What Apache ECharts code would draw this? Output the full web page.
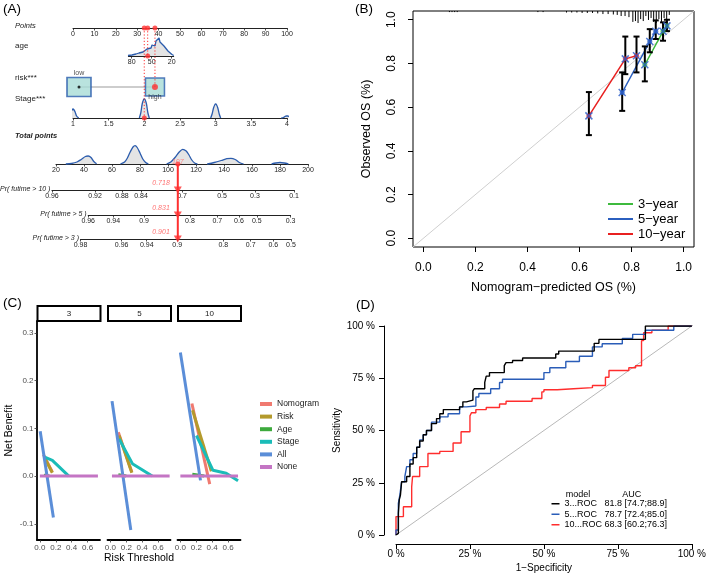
<!DOCTYPE html>
<html><head><meta charset="utf-8">
<script src="https://cdn.jsdelivr.net/npm/echarts@6/dist/echarts.min.js"></script>
<style>html,body{margin:0;padding:0;background:#fff}#c{width:709px;height:574px}</style>
</head><body><div id="c"></div>
<script>
// ================= DATA =================
// ---- Panel A (nomogram) ----
const ageTicks = [80, 50, 20];
const ageDensX = [85.6,79.6,73.6,69,66,63,60,57,54,51,49.5,46.6,45,43.6,42,40.6,39,37.6,36,34.6,31.6,28.6,25.6,22.6,19.6,17];
const ageDensY = [0.5,1,2,3,4.5,4,6,7,9,8,11,12,10,15,13,17,18,14,16,12,10,8,5,3,1.5,0.5];
const riskLevels = ['low', 'high'];
const riskPoints = [2.8, 38.3];
const stageDensX = [
  [0.92,0.95,0.97,0.99,1.0,1.01,1.03,1.05,1.08],
  [1.93,1.95,1.97,1.99,2.0,2.01,2.03,2.05,2.07],
  [2.93,2.95,2.97,2.99,3.0,3.01,3.03,3.05,3.07],
  [3.92,3.95,3.97,3.99,4.0,4.01,4.03,4.05,4.08]];
const stageDensY = [
  [0,2,6,8.5,9,8.5,6,2,0],
  [0,5,14,18.5,19,18.5,14,5,0],
  [0,4,10,13.5,14,13.5,10,4,0],
  [0,0.5,1.5,2,2,2,1.5,0.5,0]];
const totalDensX = [
  [27,31,35,38,41,43,45,47,49],
  [66,69,71,73,75,76.5,78,80,82,84,86],
  [99,102,105,108,110.5,113,115,117,119,121],
  [128,133,138,142,145,148,151,154],
  [174,177,180,183,186]];
const totalDensY = [
  [0,0.5,2,4.5,7.5,8,6.5,2.5,0.3],
  [0,2,6,12,17,18.3,16.5,11,5,1.5,0],
  [0,2,6.5,12,14.7,13,9,4,1,0],
  [0,1.5,3.5,5.3,5.7,4.5,1.5,0],
  [0,1,1.5,1,0]];
const pr10Labels = ['0.96','0.92','0.88','0.84','0.7','0.5','0.3','0.1'];
const pr10Pos    = [17.1, 47.9, 67.1, 80.7, 110, 138.6, 162.1, 190];
const pr5Labels  = ['0.96','0.94','0.9','0.8','0.7','0.6','0.5','0.3'];
const pr5Pos     = [43, 60.9, 82.9, 115.7, 135.2, 150.7, 163.4, 187.5];
const pr3Labels  = ['0.98','0.96','0.94','0.9','0.8','0.7','0.6','0.5'];
const pr3Pos     = [37.5, 66.9, 84.8, 106.6, 139.5, 159.1, 175.2, 187.8];
const obsAge = 56, obsStage = 2, obsRisk = 1;
const varPoints = [33.3, 34.9, 38.3];     // stage, age, risk
const totalPoints = 107;
const predProbs = [0.718, 0.831, 0.901]; // 10, 5, 3 years

// ---- Panel B (calibration) ----
const calYears = ['3\u2212year','5\u2212year','10\u2212year'];
const cal3Pred = [0.851,0.921,0.936], cal3Obs = [0.794,0.947,0.972], cal3Lo = [0.718,0.904,0.948], cal3Hi = [0.878,0.988,1.0];
const cal5Pred = [0.764,0.870,0.893], cal5Obs = [0.667,0.900,0.947], cal5Lo = [0.583,0.851,0.912], cal5Hi = [0.759,0.957,0.997];
const cal10Pred = [0.636,0.776,0.819], cal10Obs = [0.560,0.821,0.835], cal10Lo = [0.472,0.751,0.759], cal10Hi = [0.669,0.923,0.923];
const rugX = [0.10,0.11,0.12,0.13,0.44,0.46,0.55,0.57,0.59,0.61,0.63,0.65,0.67,0.69,0.71,0.73,0.745,0.76,0.775,0.79,0.805,0.815,0.825,0.835,0.845,0.855,0.865,0.875,0.885,0.895,0.905,0.915,0.925,0.935,0.945];
const rugH = [0.005,0.005,0.005,0.005,0.005,0.005,0.007,0.007,0.007,0.009,0.009,0.009,0.011,0.014,0.014,0.016,0.018,0.023,0.023,0.028,0.05,0.046,0.055,0.037,0.046,0.023,0.041,0.032,0.05,0.055,0.037,0.05,0.032,0.041,0.018];
const calTicks = [0,0.2,0.4,0.6,0.8,1.0];

// ---- Panel C (decision curves) ----
const dcaFacets = ['3','5','10'];
const dcaModels = ['Nomogram','Risk','Age','Stage','All','None'];
const dca3_Nomogram = [[0.045,0.045],[0.157,0.008]];
const dca3_Risk     = [[0.054,0.040],[0.157,0.007]];
const dca3_Age      = [[0.05,0.002],[0.12,0.0]];
const dca3_Stage    = [[0.054,0.040],[0.157,0.033],[0.364,0.0]];
const dca3_All      = [[0.004,0.094],[0.17,-0.087]];
const dca3_None     = [[0,0],[0.73,0]];
const dca5_Nomogram = [[0.10,0.092],[0.27,0.008]];
const dca5_Risk     = [[0.11,0.085],[0.27,0.007]];
const dca5_Age      = [[0.10,0.003],[0.20,0.0]];
const dca5_Stage    = [[0.11,0.078],[0.277,0.026],[0.526,0.0]];
const dca5_All      = [[0.021,0.157],[0.257,-0.113]];
const dca5_None     = [[0.02,0],[0.745,0]];
const dca10_Nomogram = [[0.145,0.152],[0.369,-0.017]];
const dca10_Risk     = [[0.153,0.138],[0.39,0.01]];
const dca10_Age      = [[0.15,0.004],[0.30,0.0]];
const dca10_Stage    = [[0.203,0.085],[0.41,0.012],[0.576,0.006],[0.725,-0.01]];
const dca10_All      = [[0,0.259],[0.253,-0.009]];
const dca10_None     = [[0,0],[0.725,0]];
const dcaXTicks = [0,0.2,0.4,0.6];
const dcaYTicks = [-0.1,0,0.1,0.2,0.3];

// ---- Panel D (ROC) ----
const rocNames = ['3...ROC','5...ROC','10...ROC'];
const rocAUC = ['81.8 [74.7;88.9]','78.7 [72.4;85.0]','68.3 [60.2;76.3]'];
const roc3X = [0,0.008,0.011,0.015,0.019,0.036,0.047,0.058,0.07,0.08,0.092,0.103,0.12,0.137,0.148,0.16,0.176,0.215,0.226,0.238,0.26,0.265,0.3,0.305,0.316,0.327,0.366,0.372,0.394,0.428,0.434,0.54,0.55,0.563,0.67,0.686,0.69,0.843,0.848,1.0];
const roc3Y = [0,0.008,0.104,0.168,0.191,0.255,0.28,0.34,0.37,0.42,0.45,0.48,0.50,0.533,0.557,0.58,0.60,0.60,0.613,0.637,0.645,0.69,0.70,0.73,0.76,0.777,0.777,0.81,0.825,0.835,0.847,0.847,0.866,0.88,0.88,0.917,0.936,0.936,1.0,1.0];
const roc5X = [0,0.008,0.013,0.019,0.03,0.036,0.047,0.058,0.07,0.08,0.092,0.103,0.12,0.148,0.176,0.215,0.238,0.27,0.28,0.32,0.35,0.36,0.372,0.5,0.52,0.574,0.62,0.664,0.697,0.765,0.8,0.843,0.888,0.939,0.944,1.0];
const roc5Y = [0,0.024,0.151,0.191,0.255,0.28,0.327,0.36,0.39,0.42,0.455,0.48,0.50,0.54,0.565,0.58,0.613,0.617,0.66,0.677,0.70,0.73,0.745,0.745,0.777,0.80,0.83,0.855,0.90,0.915,0.94,0.96,0.98,0.98,1.0,1.0];
const roc10X = [0,0,0.025,0.03,0.053,0.056,0.058,0.08,0.086,0.108,0.114,0.148,0.17,0.193,0.2,0.22,0.226,0.25,0.255,0.27,0.305,0.35,0.372,0.39,0.46,0.493,0.5,0.545,0.6,0.664,0.708,0.72,0.787,0.81,0.83,0.837,0.865,0.92,0.92,1.0];
const roc10Y = [0,0.088,0.088,0.135,0.135,0.23,0.28,0.28,0.327,0.327,0.39,0.39,0.40,0.40,0.44,0.44,0.494,0.494,0.57,0.585,0.60,0.61,0.627,0.64,0.64,0.653,0.685,0.695,0.70,0.705,0.715,0.755,0.787,0.80,0.81,0.93,0.968,0.98,1.0,1.0];

// ================= BUILD =================
const FONT = "'Liberation Sans', Arial, Helvetica, sans-serif";
const grids = [], xAxes = [], yAxes = [], series = [], graphics = [];
function addGrid(g, xa, ya) {
  const i = grids.length;
  grids.push(Object.assign({show:false, containLabel:false}, g));
  xAxes.push(Object.assign({gridIndex:i}, xa));
  yAxes.push(Object.assign({gridIndex:i}, ya));
  return i;
}
const hid = (min, max, inv) => ({type:'value', min, max, inverse:!!inv, show:false, splitLine:{show:false}});
const zip = (a, b) => a.map((v, i) => [v, b[i]]);
function nomAxis(min, max, extra) {
  const ax = {type:'value', min, max, position:'bottom',
    axisLine:{show:true, onZero:false, lineStyle:{color:'#222', width:1}},
    axisTick:{show:true, inside:false, length:2.5, lineStyle:{color:'#222', width:0.8}},
    axisLabel:{show:true, fontSize:7, color:'#222', margin:2.5, fontFamily:FONT},
    splitLine:{show:false}};
  if (extra && extra.interval) ax.interval = extra.interval;
  if (extra && extra.inverse) ax.inverse = true;
  if (extra && extra.ticks) {
    ax.axisTick.customValues = extra.ticks;
    ax.axisLabel.customValues = extra.ticks;
  }
  if (extra && extra.formatter) ax.axisLabel.formatter = extra.formatter;
  return ax;
}
function txt(x, y, t, o) {
  graphics.push({type:'text', x, y, style:Object.assign({text:t, fontFamily:FONT, fontSize:8, fill:'#222', textVerticalAlign:'middle', textAlign:'left'}, o || {})});
}
const BLUE_D = '#2B5CAD', FILL_D = '#E4E4E4', RED_A = '#FF3030';

// ---------- Panel A layout ----------
const ptsL = 73, ptsW = 214;                       // Points 0..100
const totPx = v => 56 + (v - 20) * 1.4;            // Total points scale
const agePxPerYr = 2 / 3, age80Px = 131.7;
const rowY = {points:28, age:56, risk:87, stage:118, total:164, pr10:190, pr5:215, pr3:239};

const gPts = addGrid({left:ptsL, top:rowY.points - 10, width:ptsW, height:10}, nomAxis(0, 100, {interval:10}), hid(0, 1));
series.push({type:'scatter', xAxisIndex:gPts, yAxisIndex:gPts, data:varPoints.map(v => [v, 0]), symbolSize:5, itemStyle:{color:RED_A}, clip:false, z:10, silent:true});

const ageMin = 17, ageMax = 85;
const gAge = addGrid({left:age80Px - (ageMax - 80) * agePxPerYr, top:rowY.age - 20, width:(ageMax - ageMin) * agePxPerYr, height:20},
  nomAxis(ageMin, ageMax, {inverse:true, ticks:ageTicks}), hid(0, 20));
series.push({type:'line', xAxisIndex:gAge, yAxisIndex:gAge, data:zip(ageDensX, ageDensY), symbol:'none', clip:false,
  lineStyle:{color:BLUE_D, width:1.3}, areaStyle:{color:FILL_D, opacity:1, origin:'start'}, z:2, silent:true});
series.push({type:'scatter', xAxisIndex:gAge, yAxisIndex:gAge, data:[[obsAge, 0]], symbolSize:5, itemStyle:{color:RED_A}, clip:false, z:10});

const gRisk = addGrid({left:ptsL, top:rowY.risk - 10, width:ptsW, height:20}, hid(0, 100), hid(0, 1));
series.push({type:'line', xAxisIndex:gRisk, yAxisIndex:gRisk, data:riskPoints.map(v => [v, 0.5]), symbol:'none', lineStyle:{color:'#BDBDBD', width:1.3}, z:1});
series.push({type:'scatter', xAxisIndex:gRisk, yAxisIndex:gRisk, symbol:'rect', clip:false, z:2,
  itemStyle:{color:'#A8DCD6', borderColor:BLUE_D, borderWidth:1.5},
  data:[
    {value:[riskPoints[0], 0.5], symbolSize:[24, 19], label:{show:true, position:'top', distance:0, formatter:riskLevels[0], fontSize:7, color:'#222'}},
    {value:[riskPoints[1], 0.5], symbolSize:[19, 18], label:{show:true, position:'bottom', distance:-3.5, formatter:riskLevels[1], fontSize:7, color:'#222'}}]});
series.push({type:'scatter', xAxisIndex:gRisk, yAxisIndex:gRisk, data:[[riskPoints[0], 0.5]], symbolSize:3, itemStyle:{color:'#000'}, z:5});
series.push({type:'scatter', xAxisIndex:gRisk, yAxisIndex:gRisk, data:[[riskPoints[obsRisk], 0.5]], symbolSize:6, itemStyle:{color:RED_A}, z:6});

const gStage = addGrid({left:ptsL, top:rowY.stage - 20, width:ptsW, height:20}, nomAxis(1, 4, {interval:0.5}), hid(0, 20));
stageDensX.forEach((xs, k) => series.push({type:'line', xAxisIndex:gStage, yAxisIndex:gStage, data:zip(xs, stageDensY[k]), symbol:'none', smooth:0.3, clip:false,
  lineStyle:{color:BLUE_D, width:1.3}, areaStyle:{color:FILL_D, opacity:1, origin:'start'}, z:2, silent:true}));
series.push({type:'scatter', xAxisIndex:gStage, yAxisIndex:gStage, data:[[obsStage, 0]], symbolSize:5, itemStyle:{color:RED_A}, clip:false, z:10});

const gTot = addGrid({left:totPx(20), top:rowY.total - 20, width:totPx(200) - totPx(20), height:20}, nomAxis(20, 200, {interval:20}), hid(0, 20));
totalDensX.forEach((xs, k) => series.push({type:'line', xAxisIndex:gTot, yAxisIndex:gTot, data:zip(xs, totalDensY[k]), symbol:'none', smooth:0.3, clip:false,
  lineStyle:{color:BLUE_D, width:1.3}, areaStyle:{color:FILL_D, opacity:1, origin:'start'}, z:2, silent:true}));
series.push({type:'scatter', xAxisIndex:gTot, yAxisIndex:gTot, data:[[totalPoints, 0]], symbolSize:5, itemStyle:{color:RED_A}, clip:false, z:10,
  label:{show:true, position:'inside', offset:[0, -2], formatter:String(totalPoints), fontSize:7, fontStyle:'italic', color:'#FF7070'}});

const prRows = [
  {labels:pr10Labels, pos:pr10Pos, y:rowY.pr10, prev:rowY.total, name:'Pr( futime > 10 )', p:predProbs[0]},
  {labels:pr5Labels,  pos:pr5Pos,  y:rowY.pr5,  prev:rowY.pr10,  name:'Pr( futime > 5 )',  p:predProbs[1]},
  {labels:pr3Labels,  pos:pr3Pos,  y:rowY.pr3,  prev:rowY.pr5,   name:'Pr( futime > 3 )',  p:predProbs[2]}];
prRows.forEach(r => {
  const a = r.pos[0], b = r.pos[r.pos.length - 1];
  const fmt = v => { const i = r.pos.findIndex(q => Math.abs(q - v) < 1e-6); return i >= 0 ? r.labels[i] : ''; };
  const g = addGrid({left:totPx(a), top:r.prev, width:totPx(b) - totPx(a), height:r.y - r.prev}, nomAxis(a, b, {ticks:r.pos, formatter:fmt}), hid(0, 1));
  series.push({type:'line', xAxisIndex:g, yAxisIndex:g, data:[[totalPoints, 1], [totalPoints, 0]], symbol:'none', lineStyle:{color:RED_A, width:2}, z:8, clip:false});
  series.push({type:'scatter', xAxisIndex:g, yAxisIndex:g, data:[[totalPoints, 0]], symbol:'triangle', symbolRotate:180, symbolSize:[8, 7], itemStyle:{color:RED_A}, z:9, clip:false,
    label:{show:true, position:'left', distance:4, offset:[0, -6.5], formatter:String(r.p), fontSize:7, fontStyle:'italic', color:'#FF5050'}});
  txt(totPx(a) - 1.5, r.y - 0.5, r.name, {textAlign:'right', fontSize:7, fontStyle:'italic'});
});

const gGuide = addGrid({left:ptsL, top:rowY.points, width:ptsW, height:rowY.stage - rowY.points}, hid(0, 100), hid(0, rowY.stage - rowY.points, true));
[[varPoints[0], rowY.stage], [varPoints[1], rowY.age], [varPoints[2], rowY.risk]].forEach(([v, yEnd]) => {
  series.push({type:'line', xAxisIndex:gGuide, yAxisIndex:gGuide, data:[[v, 0], [v, yEnd - rowY.points]], symbol:'none',
    lineStyle:{color:RED_A, width:1, type:[1.2, 2]}, z:7, clip:false});
});

txt(15, 25.7, 'Points', {fontStyle:'italic', fontSize:7.5});
txt(15, 46, 'age');
txt(15, 77.7, 'risk***');
txt(15, 99, 'Stage***');
txt(15, 136, 'Total points', {fontStyle:'italic', fontWeight:'bold', fontSize:7.5});

// ---------- Panel B ----------
const gB = addGrid({show:true, left:413, top:11, width:281, height:236, borderColor:'#000', borderWidth:1, backgroundColor:'rgba(0,0,0,0)'},
  {type:'value', min:-0.04, max:1.04,
   axisLine:{show:false, onZero:false}, splitLine:{show:false},
   axisTick:{show:true, inside:false, length:5, customValues:calTicks, lineStyle:{color:'#000', width:1}},
   axisLabel:{show:true, customValues:calTicks, formatter:v => v.toFixed(1), fontSize:12, color:'#000', margin:15, fontFamily:FONT},
   name:'Nomogram\u2212predicted OS (%)', nameLocation:'middle', nameGap:34, nameTextStyle:{fontSize:12.5, color:'#000', fontFamily:FONT}},
  {type:'value', min:-0.04, max:1.04,
   axisLine:{show:false, onZero:false}, splitLine:{show:false},
   axisTick:{show:true, inside:false, length:5, customValues:calTicks, lineStyle:{color:'#000', width:1}},
   axisLabel:{show:true, customValues:calTicks, formatter:v => v.toFixed(1), fontSize:12, color:'#000', margin:15, rotate:90, fontFamily:FONT},
   name:'Observed OS (%)', nameLocation:'middle', nameGap:40, nameTextStyle:{fontSize:12.5, color:'#000', fontFamily:FONT}});
series.push({type:'line', xAxisIndex:gB, yAxisIndex:gB, data:[[-0.04, -0.04], [1.04, 1.04]], symbol:'none', lineStyle:{color:'#CFCFCF', width:1}, z:1, silent:true});
series.push({type:'custom', xAxisIndex:gB, yAxisIndex:gB, data:zip(rugX, rugH), z:2, silent:true,
  renderItem:(p, api) => {
    const x = api.value(0), h = api.value(1);
    const a = api.coord([x, 1.04]), b = api.coord([x, 1.04 - h]);
    return {type:'line', shape:{x1:a[0], y1:a[1], x2:b[0], y2:b[1]}, style:{stroke:'#000', lineWidth:1}};
  }});
const calSets = [
  {name:calYears[0], pred:cal3Pred, obs:cal3Obs, lo:cal3Lo, hi:cal3Hi, color:'#3DBA3D'},
  {name:calYears[1], pred:cal5Pred, obs:cal5Obs, lo:cal5Lo, hi:cal5Hi, color:'#2B5FBF'},
  {name:calYears[2], pred:cal10Pred, obs:cal10Obs, lo:cal10Lo, hi:cal10Hi, color:'#E82020'}];
calSets.forEach(s => {
  series.push({type:'line', name:s.name, xAxisIndex:gB, yAxisIndex:gB, data:zip(s.pred, s.obs), symbol:'none', lineStyle:{color:s.color, width:1.5}, itemStyle:{color:s.color}, z:3});
});
calSets.forEach(s => {
  series.push({type:'custom', xAxisIndex:gB, yAxisIndex:gB, data:s.pred.map((v, i) => [v, s.lo[i], s.hi[i]]), z:4, silent:true, clip:false,
    encode:{x:0, y:[1, 2]},
    renderItem:(p, api) => {
      const x = api.value(0);
      const a = api.coord([x, api.value(1)]), b = api.coord([x, api.value(2)]);
      const st = {stroke:'#000', lineWidth:2};
      return {type:'group', children:[
        {type:'line', shape:{x1:a[0], y1:a[1], x2:b[0], y2:b[1]}, style:st},
        {type:'line', shape:{x1:a[0] - 3, y1:a[1], x2:a[0] + 3, y2:a[1]}, style:st},
        {type:'line', shape:{x1:b[0] - 3, y1:b[1], x2:b[0] + 3, y2:b[1]}, style:st}]};
    }});
});
calSets.forEach(s => {
  series.push({type:'scatter', xAxisIndex:gB, yAxisIndex:gB, data:zip(s.pred, s.obs), symbolSize:5, itemStyle:{color:s.color}, z:5, silent:true});
  series.push({type:'scatter', xAxisIndex:gB, yAxisIndex:gB, data:zip(s.pred, s.obs), symbol:'path://M0 0L10 10M10 0L0 10', symbolSize:7,
    itemStyle:{color:'rgba(0,0,0,0)', borderColor:'#2A5CC8', borderWidth:1.5}, z:6, silent:true});
});

// ---------- Panel C ----------
const dcaColors = ['#F07A70', '#B49A2C', '#3DAA3D', '#1ABCB8', '#5B8ED8', '#C475C4'];
const dcaData = [
  [dca3_Nomogram, dca3_Risk, dca3_Age, dca3_Stage, dca3_All, dca3_None],
  [dca5_Nomogram, dca5_Risk, dca5_Age, dca5_Stage, dca5_All, dca5_None],
  [dca10_Nomogram, dca10_Risk, dca10_Age, dca10_Stage, dca10_All, dca10_None]];
const facetLeft = [37, 107.5, 177.5], facetW = 63, cTop = 321, cH = 219;
dcaFacets.forEach((f, k) => {
  addGrid({left:facetLeft[k], top:cTop, width:facetW, height:cH},
    {type:'value', min:0, max:1, splitLine:{show:false}, axisTick:{show:false}, axisLabel:{show:false},
     axisLine:{show:true, onZero:false, lineStyle:{color:'#000', width:1.8}}},
    {type:'value', min:0, max:1, splitLine:{show:false}, axisTick:{show:false}, axisLabel:{show:false}, show:k === 0,
     axisLine:{show:k === 0, onZero:false, lineStyle:{color:'#000', width:1.8}}});
  const xa = {type:'value', min:-0.036, max:0.756, splitLine:{show:false},
    axisLine:{show:false, onZero:false},
    axisTick:{show:true, length:2.5, customValues:dcaXTicks, lineStyle:{color:'#333', width:0.8}},
    axisLabel:{show:true, customValues:dcaXTicks, formatter:v => v.toFixed(1), fontSize:8, color:'#4D4D4D', margin:3.5, fontFamily:FONT}};
  if (k === 1) Object.assign(xa, {name:'Risk Threshold', nameLocation:'middle', nameGap:13, nameTextStyle:{fontSize:10.5, color:'#000', fontFamily:FONT}});
  const ya = {type:'value', min:-0.134, max:0.325, splitLine:{show:false}, show:k === 0,
    axisLine:{show:false, onZero:false},
    axisTick:{show:k === 0, length:2.5, customValues:dcaYTicks, lineStyle:{color:'#333', width:0.8}},
    axisLabel:{show:k === 0, customValues:dcaYTicks, formatter:v => v.toFixed(1), fontSize:8, color:'#4D4D4D', margin:3.5, fontFamily:FONT}};
  if (k === 0) Object.assign(ya, {name:'Net Benefit', nameLocation:'middle', nameGap:22, nameTextStyle:{fontSize:10.5, color:'#000', fontFamily:FONT}});
  const g = addGrid({left:facetLeft[k], top:cTop, width:facetW, height:cH}, xa, ya);
  dcaModels.forEach((m, j) => {
    series.push({type:'line', name:m, xAxisIndex:g, yAxisIndex:g, data:dcaData[k][j], symbol:'none',
      lineStyle:{color:dcaColors[j], width:3}, itemStyle:{color:dcaColors[j]}, z:2 + j});
  });
  graphics.push({type:'rect', shape:{x:facetLeft[k] + 0.5, y:306, width:facetW, height:15}, style:{fill:'#fff', stroke:'#000', lineWidth:2}});
  txt(facetLeft[k] + 0.5 + facetW / 2, 313.5, f, {textAlign:'center', fontSize:8, fill:'#1A1A1A'});
});

// ---------- Panel D ----------
const gD = addGrid({left:396, top:326, width:297, height:209},
  {type:'value', min:0, max:1, interval:0.25, offset:9, splitLine:{show:false},
   axisLine:{show:true, onZero:false, lineStyle:{color:'#000', width:1}},
   axisTick:{show:true, length:5, lineStyle:{color:'#000', width:1}},
   axisLabel:{show:true, formatter:v => Math.round(v * 100) + ' %', fontSize:10, color:'#000', margin:5.5, fontFamily:FONT},
   name:'1\u2212Specificity', nameLocation:'middle', nameGap:19, nameTextStyle:{fontSize:10, color:'#000', fontFamily:FONT}},
  {type:'value', min:0, max:1, interval:0.25, offset:12, splitLine:{show:false},
   axisLine:{show:true, onZero:false, lineStyle:{color:'#000', width:1}},
   axisTick:{show:true, length:5, lineStyle:{color:'#000', width:1}},
   axisLabel:{show:true, formatter:v => Math.round(v * 100) + ' %', fontSize:10, color:'#000', margin:9, fontFamily:FONT},
   name:'Sensitivity', nameLocation:'middle', nameGap:32, nameTextStyle:{fontSize:10, color:'#000', fontFamily:FONT}});
series.push({type:'line', xAxisIndex:gD, yAxisIndex:gD, data:[[-0.04, -0.04], [1.04, 1.04]], symbol:'none', clip:false, lineStyle:{color:'#B8B8B8', width:1}, z:1, silent:true});
const rocSets = [[roc3X, roc3Y, '#000000'], [roc5X, roc5Y, '#2A5DB8'], [roc10X, roc10Y, '#FF2D2D']];
rocSets.forEach(([xs, ys, c], i) => {
  series.push({type:'line', name:rocNames[i], xAxisIndex:gD, yAxisIndex:gD, data:zip(xs, ys), symbol:'none', step:'start',
    lineStyle:{color:c, width:1.4}, itemStyle:{color:c}, z:5 - i});
});
txt(578, 494.3, 'model', {textAlign:'center', fontSize:9, fill:'#000'});
txt(631.7, 494.3, 'AUC', {textAlign:'center', fontSize:9, fill:'#000'});

// Panel labels
txt(3, 9.5, '(A)', {fontSize:13.5, fill:'#000'});
txt(355, 9.5, '(B)', {fontSize:13.5, fill:'#000'});
txt(3, 303, '(C)', {fontSize:13.5, fill:'#000'});
txt(356, 305, '(D)', {fontSize:13.5, fill:'#000'});

const chart = echarts.init(document.getElementById('c'), null, {renderer:'canvas', width:709, height:574});
chart.setOption({
  animation:false, backgroundColor:'#fff', textStyle:{fontFamily:FONT},
  grid:grids, xAxis:xAxes, yAxis:yAxes, series,
  legend:[
    {data:calYears, orient:'vertical', left:608, top:196.5, padding:0, icon:'rect', itemWidth:25, itemHeight:2, itemGap:0, itemTextGap:6,
     textStyle:{fontSize:13, color:'#000', lineHeight:15, fontFamily:FONT}, selectedMode:false},
    {data:dcaModels, orient:'vertical', left:260, top:399, padding:0, icon:'rect', itemWidth:12, itemHeight:4, itemGap:2.6, itemTextGap:4,
     textStyle:{fontSize:8.5, color:'#1A1A1A', lineHeight:10, fontFamily:FONT}, selectedMode:false},
    {data:rocNames, orient:'vertical', left:551.5, top:498.5, padding:0, icon:'rect', itemWidth:8, itemHeight:1.5, itemGap:0, itemTextGap:3,
     formatter:n => '{a|' + n + '}{b|' + rocAUC[rocNames.indexOf(n)] + '}',
     textStyle:{fontSize:9, color:'#000', lineHeight:10.5, fontFamily:FONT,
       rich:{a:{width:40, fontSize:9, lineHeight:10.5, fontFamily:FONT}, b:{fontSize:9, lineHeight:10.5, fontFamily:FONT}}}, selectedMode:false}],
  graphic:{elements:graphics}
});
</script></body></html>
